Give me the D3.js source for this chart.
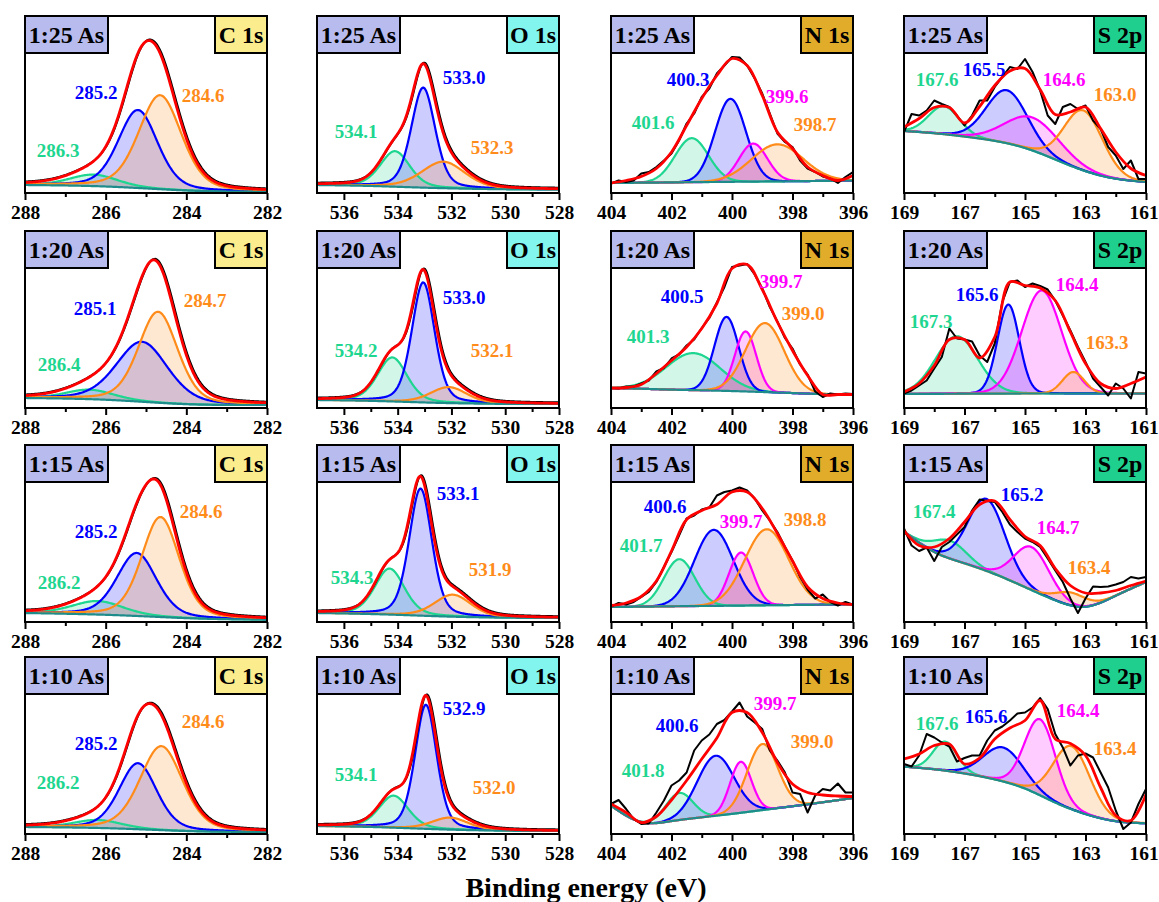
<!DOCTYPE html>
<html>
<head>
<meta charset="utf-8">
<script src="https://cdn.jsdelivr.net/npm/d3@7"></script>
<style>
body { margin: 0; background: #fff; }
svg { display: block; font-family: "Liberation Serif", "Times New Roman", serif; font-weight: bold; }
</style>
</head>
<body>
<svg id="chart" width="1159" height="902"></svg>
<script>
// rows = As ratio, columns = core level
var ratioLabels = ["1:25 As", "1:20 As", "1:15 As", "1:10 As"];
var regionLabels = ["C 1s", "O 1s", "N 1s", "S 2p"];
var energyDomain = [[288, 282], [537, 528], [404, 396], [169, 161]];
var majorTicks = [[288, 286, 284, 282], [536, 534, 532, 530, 528], [404, 402, 400, 398, 396], [169, 167, 165, 163, 161]];

// fitted components: [centre eV, height, FWHM eV, colour key, label]
var cPeaks = [
    [[286.3, 11.5, 1.4, "g", "286.3"], [285.2, 78, 1.15, "b", "285.2"], [284.65, 94, 1.25, "o", "284.6"]],
    [[286.4, 9.5, 1.4, "g", "286.4"], [285.1, 60, 1.5, "b", "285.1"], [284.7, 91, 1.15, "o", "284.7"]],
    [[286.2, 13.5, 1.5, "g", "286.2"], [285.23, 63, 1.16, "b", "285.2"], [284.64, 100, 1.1, "o", "284.6"]],
    [[286.2, 8, 1.4, "g", "286.2"], [285.2, 66, 1.1, "b", "285.2"], [284.62, 84, 1.25, "o", "284.6"]]
];
var oPeaks = [
    [[534.1, 35.5, 1.3, "g", "534.1"], [533.05, 100, 1.05, "b", "533.0"], [532.3, 26.5, 1.9, "o", "532.3"]],
    [[534.2, 44, 1.3, "g", "534.2"], [533.05, 120, 1.0, "b", "533.0"], [532.1, 16, 1.6, "o", "532.1"]],
    [[534.3, 46, 1.3, "g", "534.3"], [533.15, 127, 1.0, "b", "533.1"], [531.95, 22, 1.6, "o", "531.9"]],
    [[534.15, 32, 1.3, "g", "534.1"], [532.95, 124, 0.95, "b", "532.9"], [532.05, 12, 1.6, "o", "532.0"]]
];
var nPeaks = [
    [[401.33, 44, 1.3, "g", "401.6"], [400.05, 83, 1.2, "b", "400.3"], [399.3, 38, 1.1, "m", "399.6"], [398.5, 37, 2.0, "o", "398.7"]],
    [[401.28, 37, 2.1, "g", "401.3"], [400.18, 74, 0.94, "b", "400.5"], [399.55, 60, 0.83, "m", "399.7"], [398.91, 69, 1.5, "o", "399.0"]],
    [[401.74, 47, 1.2, "g", "401.7"], [400.6, 76, 1.5, "b", "400.6"], [399.7, 53, 0.94, "m", "399.7"], [398.85, 76, 1.7, "o", "398.8"]],
    [[401.74, 27, 1.05, "g", "401.8"], [400.54, 60, 1.43, "b", "400.6"], [399.71, 51, 0.83, "m", "399.7"], [398.99, 66, 1.2, "o", "399.0"]]
];
var sPeaks = [
    [[167.68, 28, 1.2, "g", "167.6"], [165.6, 53, 1.6, "b", "165.5"], [164.75, 33, 2.1, "m", "164.6"], [163.07, 60, 1.5, "o", "163.0"]],
    [[167.26, 57.5, 1.65, "g", "167.3"], [165.55, 89, 0.85, "b", "165.6"], [164.45, 103, 1.55, "m", "164.4"], [163.4, 21.5, 0.85, "o", "163.3"]],
    [[167.48, 18, 1.3, "g", "167.4"], [166.27, 72, 1.43, "b", "165.2"], [164.78, 43, 1.38, "m", "164.7"], [163.46, 13, 1.2, "o", "163.4"]],
    [[167.64, 29, 0.94, "g", "167.6"], [165.72, 34, 1.55, "b", "165.6"], [164.5, 76, 1.2, "m", "164.4"], [163.46, 63, 1.43, "o", "163.4"]]
];

// background knots, one per eV from the left edge
var cBg = [
    [8, 7.6, 6.7, 4.6, 2.3, 1.4, 1.2],
    [10, 9.5, 8.5, 6, 3.5, 3, 3],
    [9, 8.3, 7.3, 5.7, 3.7, 2.7, 2.3],
    [7, 6.6, 6, 4.5, 2.8, 2.2, 2]
];
var oBg = [
    [8, 7.6, 7.1, 6.2, 5.3, 4.6, 4.1, 3.7, 3.5, 3.5],
    [8, 7.7, 7.2, 6.4, 5.5, 4.8, 4.4, 4.1, 4, 4],
    [9, 8.6, 8, 7.2, 6.2, 5.3, 4.7, 4.3, 4.1, 4],
    [8, 7.6, 7.1, 6.2, 5.2, 4.3, 3.7, 3.3, 3, 3]
];
var nBg = [
    [10, 10.3, 10.6, 10.9, 11.2, 11.5, 11.8, 12.1, 12.4],
    [20, 19.3, 18.3, 17.7, 17, 16, 15, 13.7, 13.3],
    [15, 15.3, 15.7, 16, 16.3, 16.7, 17, 17.3, 17.7],
    [28.3, 7.5, 13.3, 16.7, 20, 24, 27.7, 31.7, 36]
];
var sBg = [
    [62, 60, 56.5, 52.5, 46, 33.5, 21, 13.5, 11],
    [14, 14.2, 14.3, 14.4, 14.5, 14.5, 14.5, 14.5, 14.5],
    [90, 67.7, 59, 48.3, 35, 21, 11, 26.7, 40],
    [67.3, 65, 60.7, 55, 46.7, 30.7, 19.3, 11.7, 10.7]
];

// envelope (red) every 0.5 eV from the left edge, N 1s and S 2p
var nFit = [
    [10, 12.5, 16.5, 24.5, 41, 67.5, 94.5, 117.5, 134.5, 127.5, 97.5, 61, 44.5, 26, 17.5, 12.5, 17.5],
    [20, 20.5, 23.5, 34.5, 47.5, 61, 79.5, 104.5, 139.5, 143.5, 118.5, 86, 57.5, 32.5, 13.5, 13.5, 13.5],
    [16.5, 19, 25.5, 41, 71, 102.5, 111.5, 117.5, 130, 130, 113.5, 88.5, 61, 35, 23.5, 19, 17.5],
    [30, 21.5, 11.5, 17.5, 34, 53.5, 75, 96, 121.5, 121.5, 101.5, 71.5, 50, 41.5, 39, 38, 37.5]
];
var sFit = [
    [66, 74.5, 85.5, 85.5, 70, 86.5, 107.5, 122, 124.5, 103.5, 78.5, 81, 86, 64.5, 41, 24.5, 17.5],
    [16, 24.5, 42.5, 68.5, 68.5, 50, 71, 126, 122.5, 120, 107.5, 76, 44.5, 24.5, 19.5, 24.5, 31],
    [91.5, 76.5, 75, 83.5, 100, 117.5, 121, 102.5, 85.5, 76.5, 53.5, 36.5, 29, 29, 31.5, 36.5, 41],
    [75, 80, 88.5, 90, 70, 76, 95, 106, 113.5, 133.5, 95, 90.5, 78.5, 46.5, 18.5, 13.5, 39.5]
];

// measured spectra (black) every 0.25 eV from the left edge
var nRaw = [
    [9.5, 12.5, 11, 12.5, 19.5, 21, 26, 32.5, 39.5, 52.5, 69.5, 79.5, 96, 104.5, 119.5, 127.5, 136, 135.5, 127.5, 114.5, 99.5, 79.5, 59.5, 51, 46, 32.5, 24.5, 21, 16.5, 14.5, 10, 16, 21],
    [20, 19.5, 21.5, 21.5, 24.5, 27.5, 36.5, 40, 49.5, 53.5, 62.5, 68.5, 80, 90, 105.5, 121, 141, 142.5, 144, 133.5, 119.5, 101, 86.5, 70, 59.5, 43.5, 33.5, 16.5, 11, 14.5, 13.5, 14.5, 14],
    [15.5, 19, 17.5, 20, 25, 30, 40, 55, 70, 86.5, 103.5, 106.5, 112.5, 114.5, 126.5, 130, 131.5, 134.5, 131.5, 123.5, 111.5, 101.5, 90, 75, 61.5, 45, 32.5, 23.5, 27.5, 20, 16.5, 20, 17.5],
    [30, 34, 25, 15, 10, 10.5, 21.5, 33.5, 48.5, 53.5, 61.5, 83.5, 93.5, 99.5, 110, 114, 122.5, 131.5, 117.5, 111.5, 105, 83.5, 73.5, 61.5, 41.5, 40, 21.5, 38.5, 45, 43.5, 50.5, 41.5, 41.5]
];
var sRaw = [
    [61, 79, 77.5, 82.5, 92.5, 89, 86, 77.5, 67.5, 77.5, 92.5, 92.5, 106, 116, 126, 124, 134, 121, 102.5, 77.5, 69, 86, 89, 84, 87.5, 72.5, 64, 46, 37.5, 24, 32.5, 14, 14],
    [14.5, 17.5, 22.5, 27.5, 39.5, 51, 79.5, 69.5, 68.5, 66.5, 52.5, 46, 64.5, 106, 126, 127.5, 121, 124.5, 122, 118.5, 107.5, 92.5, 77.5, 61, 46, 29.5, 21, 12.5, 24.5, 19.5, 9.5, 36, 34.5],
    [93.5, 76.5, 71, 74.5, 61, 75, 80, 87.5, 95, 111.5, 122.5, 121, 120, 110, 97.5, 90, 83.5, 80, 75, 63.5, 51.5, 40, 23.5, 9, 23.5, 35.5, 35, 35.5, 37.5, 40, 45, 43.5, 45],
    [70, 67.5, 78.5, 100, 96.5, 91.5, 87.5, 72.5, 76, 78.5, 78.5, 93.5, 103.5, 107.5, 113.5, 120.5, 121.5, 126.5, 136, 125, 100, 86.5, 68.5, 78.5, 80.5, 76.5, 61.5, 46.5, 23.5, 5, 11.5, 30, 45]
];

// where the peak labels sit, px from the panel's top-left corner (baseline)
var cLabelAt = [[[33, 141], [71, 83], [178, 86]], [[34, 140], [70, 84], [180, 76]], [[34, 144], [71, 93], [176, 73]], [[33, 132], [71, 93], [178, 71]]];
var oLabelAt = [[[39, 122], [147, 68], [175, 138]], [[39, 126], [147, 73], [175, 126]], [[35, 139], [141, 55], [173, 131]], [[39, 124], [147, 58], [177, 137]]];
var nLabelAt = [[[42, 113], [77, 70], [176, 87], [204, 115]], [[37, 112], [71, 72], [170, 57], [192, 89]], [[30, 107], [54, 68], [130, 83], [194, 81]], [[32, 120], [66, 75], [164, 53], [201, 91]]];
var sLabelAt = [[[33, 70], [80, 60], [160, 70], [211, 85]], [[27, 97], [73, 70], [173, 60], [203, 118]], [[30, 73], [118, 56], [154, 89], [185, 129]], [[33, 73], [82, 66], [174, 60], [211, 98]]];

var regions = [
    { peaks: cPeaks, bg: cBg, fit: null, raw: null, labelAt: cLabelAt, mix: 0.3 },
    { peaks: oPeaks, bg: oBg, fit: null, raw: null, labelAt: oLabelAt, mix: 0.3 },
    { peaks: nPeaks, bg: nBg, fit: nFit, raw: nRaw, labelAt: nLabelAt, mix: 0 },
    { peaks: sPeaks, bg: sBg, fit: sFit, raw: sRaw, labelAt: sLabelAt, mix: 0.05 }
];

var peakColor = { g: "#1ed68f", b: "#0000ff", o: "#ff8c1a", m: "#ff00ff" };
var regionFill = ["#fbec8d", "#82f5ee", "#e2ac2b", "#1fcf8e"];
var ratioFill = "#b8bbed";

var colLeft = [25, 317, 611, 904],
    rowTop = [16, 231, 445, 657],
    W = 242, H = 177;

var svg = d3.select("#chart");

// pseudo-Voigt line shape
function profile(E, p, mix) {
    var d = (E - p[0]) / p[2];
    var gauss = Math.exp(-4 * Math.LN2 * d * d);
    var lor = 1 / (1 + 4 * d * d);
    return p[1] * ((1 - mix) * gauss + mix * lor);
}

regions.forEach(function (reg, j) {
    ratioLabels.forEach(function (ratio, i) {
        var dom = energyDomain[j];
        var g = svg.append("g").attr("transform", "translate(" + colLeft[j] + "," + rowTop[i] + ")");
        var x = d3.scaleLinear().domain(dom).range([0, W]);
        var y = d3.scaleLinear().domain([0, H]).range([H, 0]);

        var bgFn = d3.interpolateBasis(reg.bg[i]);
        var bgAt = function (E) { return bgFn((dom[0] - E) / (dom[0] - dom[1])); };
        var peaks = reg.peaks[i];
        var n = Math.round((dom[0] - dom[1]) / 0.02);
        var rows = d3.range(n + 1).map(function (k) {
            var E = dom[0] - k * 0.02;
            var vals = peaks.map(function (p) { return profile(E, p, reg.mix); });
            var b = bgAt(E);
            return { E: E, bg: b, vals: vals, sum: b + d3.sum(vals) };
        });

        var clipId = "clip" + i + "_" + j;
        g.append("clipPath").attr("id", clipId)
            .append("rect").attr("width", W).attr("height", H);
        var plot = g.append("g").attr("clip-path", "url(#" + clipId + ")");

        peaks.forEach(function (p, k) {
            plot.append("path").datum(rows)
                .attr("d", d3.area()
                    .x(function (d) { return x(d.E); })
                    .y0(function (d) { return y(d.bg); })
                    .y1(function (d) { return y(d.bg + d.vals[k]); }))
                .attr("fill", peakColor[p[3]])
                .attr("fill-opacity", 0.2);
        });

        g.selectAll("text.peak")
            .data(peaks)
            .enter().append("text")
            .attr("class", "peak")
            .attr("x", function (d, k) { return reg.labelAt[i][k][0]; })
            .attr("y", function (d, k) { return reg.labelAt[i][k][1]; })
            .attr("text-anchor", "middle")
            .attr("font-size", 19)
            .attr("fill", function (d) { return peakColor[d[3]]; })
            .text(function (d) { return d[4]; });

        peaks.forEach(function (p, k) {
            plot.append("path").datum(rows)
                .attr("d", d3.line()
                    .x(function (d) { return x(d.E); })
                    .y(function (d) { return y(d.bg + d.vals[k]); }))
                .attr("fill", "none")
                .attr("stroke", peakColor[p[3]])
                .attr("stroke-width", 2.2);
        });

        plot.append("path").datum(rows)
            .attr("d", d3.line()
                .x(function (d) { return x(d.E); })
                .y(function (d) { return y(d.bg); }))
            .attr("fill", "none")
            .attr("stroke", "#1f8c8c")
            .attr("stroke-width", 2.2);

        var modelLine = d3.line()
            .x(function (d) { return x(d.E); })
            .y(function (d) { return y(d.sum); });

        if (reg.raw) {
            var rawPts = reg.raw[i].map(function (v, k) { return [dom[0] - k * 0.25, v]; });
            plot.append("path").datum(rawPts)
                .attr("d", d3.line()
                    .x(function (d) { return x(d[0]); })
                    .y(function (d) { return y(d[1]); }))
                .attr("fill", "none")
                .attr("stroke", "#000")
                .attr("stroke-width", 2)
                .attr("stroke-linejoin", "round");
        } else {
            plot.append("path").datum(rows)
                .attr("d", modelLine)
                .attr("transform", "translate(1,-1)")
                .attr("fill", "none")
                .attr("stroke", "#000")
                .attr("stroke-width", 2);
        }

        if (reg.fit) {
            var fitPts = reg.fit[i].map(function (v, k) { return [dom[0] - k * 0.5, v]; });
            plot.append("path").datum(fitPts)
                .attr("d", d3.line()
                    .curve(d3.curveCatmullRom.alpha(0.5))
                    .x(function (d) { return x(d[0]); })
                    .y(function (d) { return y(d[1]); }))
                .attr("fill", "none")
                .attr("stroke", "#ff0000")
                .attr("stroke-width", 2.8);
        } else {
            plot.append("path").datum(rows)
                .attr("d", modelLine)
                .attr("fill", "none")
                .attr("stroke", "#ff0000")
                .attr("stroke-width", 2.8);
        }

        // axes: labelled majors and odd-eV minors, all pointing out
        var minors = d3.range(Math.ceil(dom[1]) + 1, Math.floor(dom[0])).filter(function (e) {
            return majorTicks[j].indexOf(e) < 0;
        });
        var gx = g.append("g").attr("transform", "translate(0," + H + ")")
            .call(d3.axisBottom(x).tickValues(majorTicks[j]).tickSize(7).tickSizeOuter(0)
                .tickPadding(5).tickFormat(d3.format("d")));
        gx.attr("font-size", 19.5).attr("font-family", null);
        gx.select(".domain").remove();
        gx.selectAll("line").attr("stroke-width", 2);
        gx.selectAll("text").attr("fill", "#000");
        // the last column's right-hand label would run past the page edge
        if (j === regions.length - 1) {
            gx.selectAll(".tick").filter(function (d) { return d === dom[1]; })
                .select("text").attr("dx", -2.5);
        }

        var gm = g.append("g").attr("transform", "translate(0," + H + ")")
            .call(d3.axisBottom(x).tickValues(minors).tickSize(4).tickFormat(""));
        gm.select(".domain").remove();
        gm.selectAll("line").attr("stroke-width", 2);

        g.append("rect")
            .attr("width", W).attr("height", H)
            .attr("fill", "none").attr("stroke", "#000").attr("stroke-width", 2);

        g.append("rect")
            .attr("width", 83).attr("height", 37)
            .attr("fill", ratioFill).attr("stroke", "#000").attr("stroke-width", 2);
        g.append("text")
            .attr("x", 41.5).attr("y", 26.5)
            .attr("text-anchor", "middle").attr("font-size", 24)
            .text(ratio);

        g.append("rect")
            .attr("x", W - 52).attr("width", 52).attr("height", 37)
            .attr("fill", regionFill[j]).attr("stroke", "#000").attr("stroke-width", 2);
        g.append("text")
            .attr("x", W - 26).attr("y", 26.5)
            .attr("text-anchor", "middle").attr("font-size", 24)
            .text(regionLabels[j]);
    });
});

svg.append("text")
    .attr("x", 586).attr("y", 897)
    .attr("text-anchor", "middle")
    .attr("font-size", 28)
    .text("Binding energy (eV)");
</script>
</body>
</html>
